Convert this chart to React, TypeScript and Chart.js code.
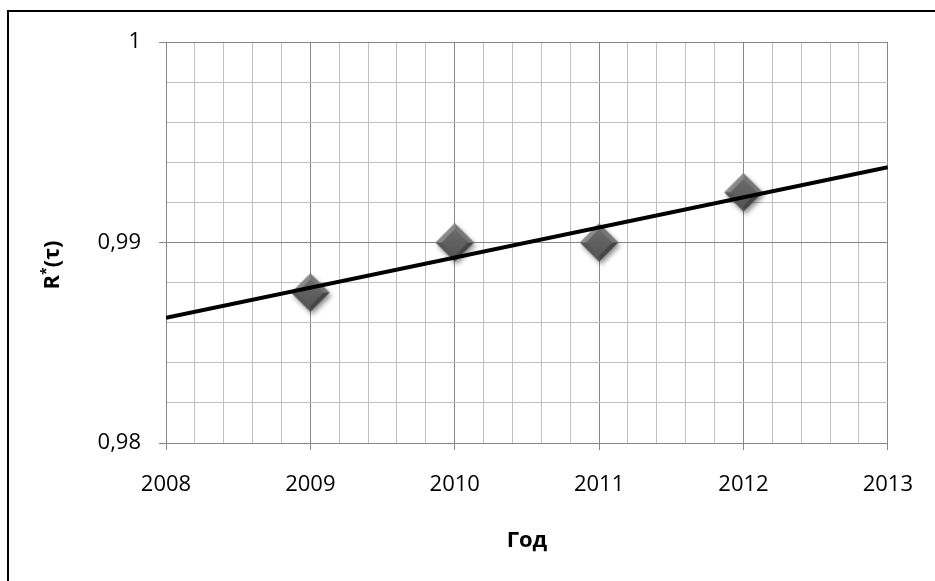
import React, { useEffect, useRef } from 'react';
import { Chart, registerables } from 'chart.js';

Chart.register(...registerables);

// ---- data ----
const years = [2009, 2010, 2011, 2012];
const reliability = [0.9875, 0.99, 0.99, 0.9925];
const trendYears = [2008, 2013];
const trendValues = [0.98625, 0.99375];

const xMajorTicks = [2008, 2009, 2010, 2011, 2012, 2013];
const yMajorTicks = [0.98, 0.99, 1];
const xMinorDivisions = 5;
const yMinorDivisions = 5;

const xAxisTitle = 'Год';
const yAxisTitleParts = ['R', '*', '(τ)'];

const FONT = '"Open Sans", "Noto Sans", sans-serif';
const MAJOR_GRID = '#878787';
const MINOR_GRID = '#c0c0c0';

function subdivide(majors: number[], n: number): number[] {
  const out: number[] = [];
  for (let i = 0; i < majors.length - 1; i++) {
    for (let k = 0; k < n; k++) {
      out.push(majors[i] + ((majors[i + 1] - majors[i]) * k) / n);
    }
  }
  out.push(majors[majors.length - 1]);
  return out;
}

const xTicks = subdivide(xMajorTicks, xMinorDivisions);
const yTicks = subdivide(yMajorTicks, yMinorDivisions);

const isXMajor = (v: number) => xMajorTicks.some((m) => Math.abs(m - v) < 1e-6);
const isYMajor = (v: number) => yMajorTicks.some((m) => Math.abs(m - v) < 1e-7);

function makeDiamond(): HTMLCanvasElement {
  const size = 54;
  const c = document.createElement('canvas');
  c.width = size;
  c.height = size;
  const ctx = c.getContext('2d')!;
  const cx = size / 2;
  const cy = size / 2;
  const r = 19;
  const ri = 13;
  // shadow body
  ctx.save();
  ctx.shadowColor = 'rgba(0,0,0,0.45)';
  ctx.shadowBlur = 5;
  ctx.shadowOffsetX = 2;
  ctx.shadowOffsetY = 3;
  ctx.beginPath();
  ctx.moveTo(cx, cy - r);
  ctx.lineTo(cx + r, cy);
  ctx.lineTo(cx, cy + r);
  ctx.lineTo(cx - r, cy);
  ctx.closePath();
  ctx.fillStyle = '#5e5e5e';
  ctx.fill();
  ctx.restore();
  // bevel facets
  const facet = (a: number[], b: number[], color: string) => {
    ctx.beginPath();
    ctx.moveTo(a[0], a[1]);
    ctx.lineTo(b[0], b[1]);
    ctx.lineTo(b[2], b[3]);
    ctx.lineTo(a[2], a[3]);
    ctx.closePath();
    ctx.fillStyle = color;
    ctx.fill();
  };
  const T = [cx, cy - r, cx, cy - ri];
  const R = [cx + r, cy, cx + ri, cy];
  const B = [cx, cy + r, cx, cy + ri];
  const L = [cx - r, cy, cx - ri, cy];
  facet(L, T, '#8a8a8a');
  facet(T, R, '#767676');
  facet(R, B, '#454545');
  facet(B, L, '#565656');
  // inner face
  const g = ctx.createLinearGradient(cx, cy - ri, cx, cy + ri);
  g.addColorStop(0, '#6a6a6a');
  g.addColorStop(1, '#575757');
  ctx.beginPath();
  ctx.moveTo(cx, cy - ri);
  ctx.lineTo(cx + ri, cy);
  ctx.lineTo(cx, cy + ri);
  ctx.lineTo(cx - ri, cy);
  ctx.closePath();
  ctx.fillStyle = g;
  ctx.fill();
  return c;
}

const yTitlePlugin = {
  id: 'yTitlePlugin',
  afterDraw(chart: any) {
    const ctx = chart.ctx as CanvasRenderingContext2D;
    ctx.save();
    ctx.translate(53, 265);
    ctx.rotate(-Math.PI / 2);
    ctx.fillStyle = '#000';
    ctx.textBaseline = 'middle';
    ctx.textAlign = 'left';
    const big = `bold 22px ${FONT}`;
    const small = `bold 14px ${FONT}`;
    const fonts = [big, small, big];
    const offsets = [0, -6, 0];
    const widths = yAxisTitleParts.map((t, i) => {
      ctx.font = fonts[i];
      return ctx.measureText(t).width;
    });
    const total = widths.reduce((a, b) => a + b, 0);
    let x = -total / 2;
    yAxisTitleParts.forEach((t, i) => {
      ctx.font = fonts[i];
      ctx.fillText(t, x, offsets[i]);
      x += widths[i];
    });
    ctx.restore();
  },
};

export default function App() {
  const ref = useRef<HTMLCanvasElement>(null);

  useEffect(() => {
    if (!ref.current) return;
    const diamond = makeDiamond();
    const chart = new Chart(ref.current, {
      type: 'scatter',
      data: {
        datasets: [
          {
            label: 'Тренд',
            data: trendYears.map((x, i) => ({ x, y: trendValues[i] })),
            showLine: true,
            borderColor: '#000',
            borderWidth: 4,
            pointRadius: 0,
            pointHoverRadius: 0,
          },
          {
            label: 'R*(τ)',
            data: years.map((x, i) => ({ x, y: reliability[i] })),
            pointStyle: diamond as any,
            pointRadius: 19,
            showLine: false,
          },
        ],
      },
      options: {
        animation: false,
        responsive: false,
        maintainAspectRatio: false,
        events: [],
        layout: { padding: { left: 0, top: 42, right: 46, bottom: 0 } },
        plugins: {
          legend: { display: false },
          tooltip: { enabled: false },
        },
        scales: {
          x: {
            type: 'linear',
            min: 2008,
            max: 2013,
            afterBuildTicks: (axis: any) => {
              axis.ticks = xTicks.map((v) => ({ value: v }));
            },
            afterFit: (scale: any) => {
              scale.height = 138;
            },
            ticks: {
              autoSkip: false,
              maxRotation: 0,
              padding: 22,
              color: '#000',
              font: { family: FONT, size: 22 },
              callback: (v: any) => (isXMajor(Number(v)) ? String(Math.round(Number(v))) : ''),
            },
            grid: {
              color: (c: any) => (isXMajor(c.tick.value) ? MAJOR_GRID : MINOR_GRID),
              tickColor: (c: any) => (isXMajor(c.tick.value) ? MAJOR_GRID : 'rgba(0,0,0,0)'),
              tickLength: 7,
              lineWidth: 1,
            },
            border: { color: MAJOR_GRID, width: 1 },
            title: {
              display: true,
              text: xAxisTitle,
              color: '#000',
              font: { family: FONT, size: 22, weight: 'bold' },
              padding: { top: 0, bottom: 27 },
            },
          },
          y: {
            type: 'linear',
            min: 0.98,
            max: 1,
            afterBuildTicks: (axis: any) => {
              axis.ticks = yTicks.map((v) => ({ value: v }));
            },
            afterFit: (scale: any) => {
              scale.width = 166;
            },
            ticks: {
              autoSkip: false,
              padding: 18,
              color: '#000',
              font: { family: FONT, size: 22 },
              callback: (v: any) =>
                isYMajor(Number(v)) ? String(Number(Number(v).toFixed(2))).replace('.', ',') : '',
            },
            grid: {
              color: (c: any) => (isYMajor(c.tick.value) ? MAJOR_GRID : MINOR_GRID),
              tickColor: (c: any) => (isYMajor(c.tick.value) ? MAJOR_GRID : 'rgba(0,0,0,0)'),
              tickLength: 7,
              lineWidth: 1,
            },
            border: { color: MAJOR_GRID, width: 1 },
          },
        },
      },
      plugins: [yTitlePlugin],
    } as any);
    return () => chart.destroy();
  }, []);

  return (
    <div style={{ position: 'absolute', left: 0, top: 0, width: 935, height: 581, overflow: 'hidden' }}>
      <div
        style={{
          position: 'absolute',
          left: 7,
          top: 10,
          width: 1200,
          height: 1200,
          borderLeft: '2px solid #000',
          borderTop: '2px solid #000',
        }}
      />
      <canvas
        ref={ref}
        width={935}
        height={581}
        style={{ position: 'absolute', left: 0, top: 0, width: 935, height: 581 }}
      />
    </div>
  );
}
